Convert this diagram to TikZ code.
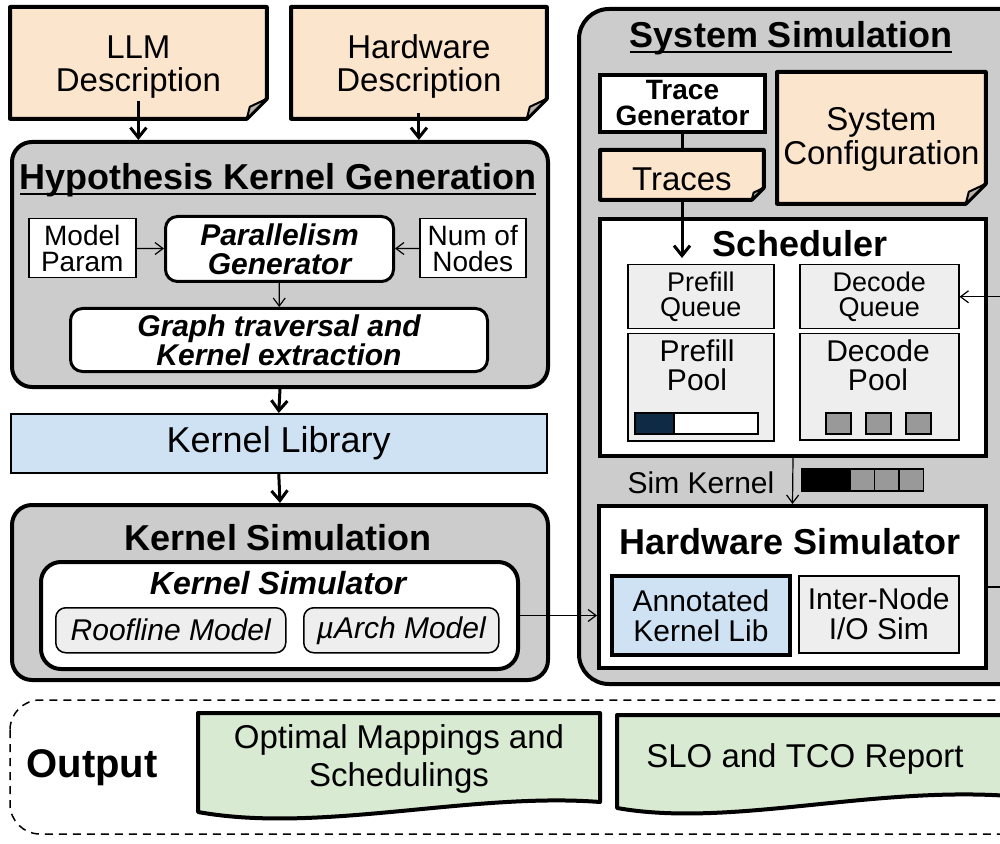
\documentclass[tikz,border=0pt]{standalone}
\usepackage{fontspec}
\setmainfont{Liberation Sans}
\usetikzlibrary{arrows.meta,positioning}
\definecolor{notepeach}{HTML}{FCE5CD}
\definecolor{libblue}{HTML}{CFE2F3}
\definecolor{outgreen}{HTML}{D9EAD3}
\definecolor{lightfill}{HTML}{EEEEEE}
\definecolor{panelgray}{HTML}{CCCCCC}
\definecolor{midgray}{HTML}{999999}
\definecolor{foldgray}{HTML}{BBB3AA}
\definecolor{barnavy}{HTML}{0F2A44}
% underlined panel titles
\newcommand{\ultitle}[1]{\setbox0\hbox{#1}\rlap{\rule[-2.5pt]{\wd0}{1.2pt}}\box0}

\begin{document}
\begin{tikzpicture}[x=0.5pt, y=-0.5pt,
    every node/.style={inner sep=0pt, align=center},
    panel/.style={draw, line width=2pt, rounded corners=10pt, fill=panelgray, anchor=north west},
    whitebox/.style={draw, line width=2pt, fill=white, anchor=north west},
    inbox/.style={draw, line width=0.75pt, fill=white, anchor=north west, font=\fontsize{14}{13}\selectfont},
    roundbox/.style={draw, line width=1.5pt, rounded corners=6pt, fill=white, anchor=north west, font=\bfseries\itshape\fontsize{15}{14.5}\selectfont},
    qbox/.style={draw, line width=0.75pt, fill=lightfill, anchor=north west},
    modelbox/.style={draw, line width=0.75pt, rounded corners=5pt, fill=lightfill, anchor=north west, font=\itshape\fontsize{15}{15}\selectfont},
    notebox/.style={anchor=north west},
    notefill/.style={draw, line width=2pt, fill=notepeach, line join=round},
    notetext/.style={font=\fontsize{16.5}{16.5}\selectfont},
    fold/.style={draw, line width=1pt, fill=foldgray, line join=round},
    outdoc/.style={draw, line width=2pt, fill=outgreen, line join=round},
    paneltitle/.style={anchor=base, font=\bfseries\fontsize{18}{21}\selectfont},
    plaintext/.style={font=\fontsize{15}{15}\selectfont},
    bigarrow/.style={line width=1.5pt, -{Straight Barb[length=5pt,width=8pt]}},
    thinarrow/.style={line width=0.6pt, -{Straight Barb[length=4pt,width=6pt]}}
  ]
  \useasboundingbox (0,0) rectangle (1000,844);
  \clip (0,0) rectangle (1000,844);

  % hypothesis kernel generation
  \node[panel, minimum width=268pt, minimum height=122.5pt] (hyp) at (10,140) {};
  \node[paneltitle] (hyptitle) at (278,190) {\ultitle{Hypothesis Kernel Generation}};
  \node[inbox, minimum width=53.5pt, minimum height=29.5pt] (mparam) at (28,218) {Model\\Param};
  \node[roundbox, minimum width=114pt, minimum height=32.5pt] (pargen) at (164,215) {Parallelism\\Generator};
  \node[inbox, minimum width=53pt, minimum height=29.5pt] (nnodes) at (419,218) {Num of\\Nodes};
  \node[roundbox, minimum width=208.5pt, minimum height=31.5pt] (graph) at (69,307) {Graph traversal and\\Kernel extraction};

  \node[draw, line width=0.75pt, fill=libblue, anchor=north west, minimum width=268pt, minimum height=29.5pt,
    font=\fontsize{18}{18}\selectfont] (kernlib) at (10,413) {Kernel Library};

  % kernel simulation
  \node[panel, minimum width=268pt, minimum height=87.5pt] (ksim) at (10,503) {};
  \node[paneltitle] (ksimtitle) at (278,550) {Kernel Simulation};
  \node[draw, line width=2pt, rounded corners=10pt, fill=white, anchor=north west,
    minimum width=238.5pt, minimum height=53.5pt] (ksimr) at (39,560) {};
  \node[anchor=base, font=\bfseries\itshape\fontsize{16}{16}\selectfont] (ksimrtitle) at (278,594) {Kernel Simulator};
  \node[modelbox, minimum width=115pt, minimum height=22.5pt] (roof) at (55,607) {Roofline Model};
  \node[modelbox, minimum width=97.5pt, minimum height=22.5pt] (uarch) at (303,607) {µArch Model};

  % system simulation
  \node[panel, rounded corners=15pt, minimum width=230pt, minimum height=337.5pt] (syssim) at (577,7) {};
  \node[paneltitle] (syssimtitle) at (791,48) {\ultitle{System Simulation}};
  \node[whitebox, minimum width=82.5pt, minimum height=28.5pt, font=\bfseries\fontsize{14}{13}\selectfont] (tracegen) at (598,73) {Trace\\Generator};
  \node[whitebox, minimum width=193pt, minimum height=118.5pt] (sched) at (598,217) {};
  \coordinate (trin) at (682,258);
  \draw[bigarrow] (tracegen.south -| trin) -- (trin);
  \node[paneltitle] (schedtitle) at (800,257) {Scheduler};
  \node[qbox, minimum width=73pt, minimum height=32pt, font=\fontsize{13.5}{12.5}\selectfont] (preq) at (627,264) {Prefill\\Queue};
  \node[qbox, minimum width=79.5pt, minimum height=32pt, font=\fontsize{13.5}{12.5}\selectfont] (decq) at (799,264) {Decode\\Queue};
  \node[qbox, minimum width=73pt, minimum height=53.5pt] (prep) at (627,333) {};
  \node[qbox, minimum width=79.5pt, minimum height=53pt] (decp) at (799,333) {};
  \node[font=\fontsize{15}{14.5}\selectfont] (prepl) at (697,365) {Prefill\\Pool};
  \node[font=\fontsize{15}{14.5}\selectfont] (decpl) at (878,365) {Decode\\Pool};
  \draw[line width=0.75pt, fill=white] (635,413) rectangle (758,434);
  \draw[line width=0.75pt, fill=barnavy] (635,413) rectangle (674,434);
  \foreach \x in {826,866,906}
    \draw[line width=0.75pt, fill=midgray] (\x,413) rectangle ++(25,21);

  \node[plaintext] (simk) at (701,483) {Sim Kernel};
  \draw[line width=0.75pt, fill=black] (802,469) rectangle (850,491);
  \foreach \x in {850,874.5,899}
    \draw[line width=0.75pt, fill=midgray] (\x,469) rectangle ++(24.5,22);

  \node[whitebox, minimum width=193.5pt, minimum height=81pt] (hwsim) at (597,504) {};
  \node[paneltitle] (hwsimtitle) at (790,554) {Hardware Simulator};
  \node[draw, line width=2pt, fill=libblue, anchor=north west, minimum width=89pt, minimum height=39.5pt,
    font=\fontsize{15}{15}\selectfont] (annot) at (610,574) {Annotated\\Kernel Lib};
  \node[qbox, minimum width=80pt, minimum height=38.5pt, font=\fontsize{15}{15}\selectfont] (inode) at (798,575) {Inter-Node\\I/O Sim};

  % notes with dog-ears
  \node[notebox, minimum width=128pt, minimum height=55.5pt] (llm) at (10,7) {};
  \node[notebox, minimum width=127.5pt, minimum height=55.5pt] (hwdesc) at (291,7) {};
  \node[notebox, minimum width=81.5pt, minimum height=24.5pt] (traces) at (600,150) {};
  \node[notebox, minimum width=104pt, minimum height=65.5pt] (sysconf) at (777,72) {};
  \foreach \d/\c in {llm/10pt, hwdesc/10pt, traces/6pt, sysconf/10pt} {
    \draw[notefill] (\d.north west) -- (\d.north east) -- ([yshift=\c]\d.south east)
      -- ([xshift=-\c]\d.south east) -- (\d.south west) -- cycle;
    \draw[fold] ([xshift=-\c]\d.south east) -- ([yshift=\c]\d.south east)
      -- ([xshift=-0.85*\c,yshift=0.6*\c]\d.south east) -- cycle;
  }
  \node[notetext] (llmtext) at ([yshift=-2pt]llm.center) {LLM\\Description};
  \node[notetext] (hwdesctext) at ([yshift=-2pt]hwdesc.center) {Hardware\\Description};
  \node[notetext] (tracestext) at ([yshift=-2pt]traces.center) {Traces};
  \node[notetext, font=\fontsize{16.5}{17}\selectfont] (sysconftext) at ([yshift=-1pt]sysconf.center) {System\\Configuration};

  % connectors
  \draw[bigarrow] ([yshift=9pt]llm.south) -- (llm.south |- hyp.north);
  \draw[bigarrow] ([yshift=3pt]hwdesc.south) -- (hwdesc.south |- hyp.north);
  \draw[thinarrow] (mparam) -- (pargen);
  \draw[thinarrow] (nnodes) -- (pargen);
  \draw[thinarrow] (pargen) -- (graph);
  \draw[bigarrow] (hyp.south) -- (kernlib.north);
  \draw[bigarrow] (kernlib.south) -- (ksim.north);
  \draw[thinarrow] (ksimr.east) -- (ksimr.east -| hwsim.west);
  \draw[thinarrow] (sched.south) -- (hwsim.north);
  \draw[thinarrow] (hwsim.east) -- ++(7pt,0) |- (decq.east);

  % output
  \draw[dashed, dash pattern=on 4pt off 3pt, line width=0.75pt, rounded corners=15pt] (10,700) rectangle (1040,834);
  \node[font=\bfseries\fontsize{20}{20}\selectfont] (outlbl) at (92,768) {Output};
  \draw[outdoc] (198,713) -- (600,713) -- (600,802) .. controls (470,792) and (320,834) .. (198,812) -- cycle;
  \node[font=\fontsize{16.5}{19}\selectfont] (optmap) at (399,759) {Optimal Mappings and\\Schedulings};
  \draw[outdoc] (617,715) -- (1010,715) -- (1010,796) .. controls (870,786) and (730,828) .. (617,808) -- cycle;
  \node[font=\fontsize{16.5}{19}\selectfont] (slo) at (805,759) {SLO and TCO Report};
\end{tikzpicture}
\end{document}
